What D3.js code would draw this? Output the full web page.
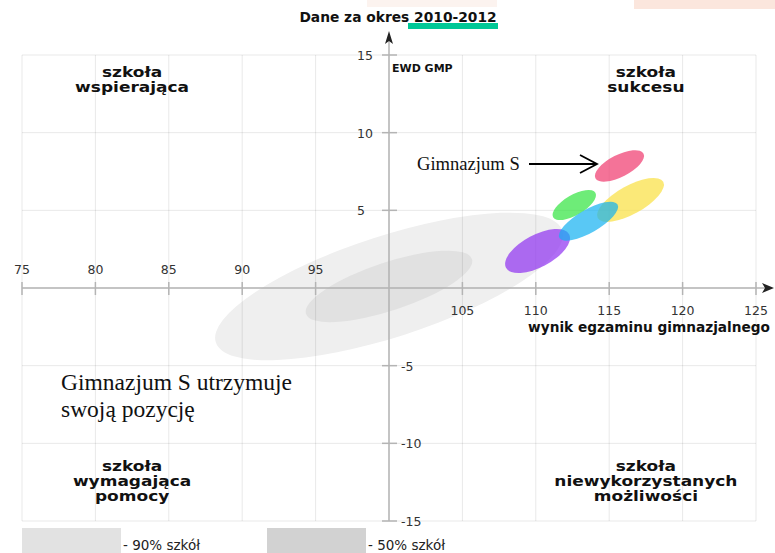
<!DOCTYPE html>
<html>
<head>
<meta charset="utf-8">
<script src="https://cdn.jsdelivr.net/npm/d3@7"></script>
<style>
  html, body { margin: 0; padding: 0; background: #fff; }
  svg { display: block; font-family: "DejaVu Sans", sans-serif; }
</style>
</head>
<body>
<svg id="chart" width="775" height="553"></svg>
<script>
// axis ticks
const xTicks = [75, 80, 85, 90, 95, 100, 105, 110, 115, 120, 125];
const yTicks = [-15, -10, -5, 0, 5, 10, 15];

// reference bands for all schools (90% / 50%)
const bandNames = ["- 90% szkół", "- 50% szkół"];
const bandX = [100.0, 100.0];
const bandY = [0.1, 0.1];
const bandMajorX = [11.8, 5.65];
const bandMajorY = [3.6, 1.77];
const bandMinor = [3.26, 1.55];

// Gimnazjum S, successive periods
const schoolX = [116.45, 112.62, 110.12, 113.59, 115.70];
const schoolY = [5.67, 5.34, 2.38, 4.30, 7.86];
const schoolMajorX = [2.23, 1.44, 2.15, 1.98, 1.64];
const schoolMajorY = [1.17, 0.79, 1.08, 1.08, 0.79];
const schoolMinor = [0.91, 0.65, 1.04, 0.74, 0.71];
const schoolColors = ["#f9e03e", "#30e43e", "#8e30f1", "#13b0f1", "#ef376c"];

const quadrants = [
  {x: 82.5, y: 13.6, lines: ["szkoła", "wspierająca"]},
  {x: 117.5, y: 13.6, lines: ["szkoła", "sukcesu"]},
  {x: 82.5, y: -11.8, lines: ["szkoła", "wymagająca", "pomocy"]},
  {x: 117.5, y: -11.8, lines: ["szkoła", "niewykorzystanych", "możliwości"]}
];

const svg = d3.select("#chart");
const x = d3.scaleLinear().domain([75, 125]).range([22, 756]);
const y = d3.scaleLinear().domain([-15, 15]).range([521, 55]);
const kx = x(1) - x(0), ky = y(0) - y(1);

// faint marks at the top edge of the scan
svg.append("rect").attr("x", 367).attr("y", 0).attr("width", 130).attr("height", 7).attr("fill", "#fcf3ef");
svg.append("rect").attr("x", 634).attr("y", 0).attr("width", 141).attr("height", 9).attr("fill", "#fbe6dd");

function ellipse(g, cx, cy, mx, my, minor, fill, op) {
  const vx = mx * kx, vy = -my * ky;
  const a = Math.hypot(vx, vy);
  const ang = Math.atan2(vy, vx) * 180 / Math.PI;
  g.append("ellipse")
    .attr("rx", a).attr("ry", minor * ky)
    .attr("transform", `translate(${x(cx)},${y(cy)}) rotate(${ang})`)
    .attr("fill", fill).attr("fill-opacity", op);
}

// grey bands
const bands = svg.append("g");
const bandFill = ["#efefef", "#e1e1e1"];
bandX.forEach((v, i) => ellipse(bands, v, bandY[i], bandMajorX[i], bandMajorY[i], bandMinor[i], bandFill[i], 1));

// grid
const grid = svg.append("g").attr("stroke", "#000").attr("stroke-opacity", 0.09).attr("stroke-width", 1);
grid.selectAll("line.v").data(xTicks).join("line")
  .attr("x1", d => x(d)).attr("x2", d => x(d)).attr("y1", y(15)).attr("y2", y(-15));
grid.selectAll("line.h").data(yTicks).join("line")
  .attr("y1", d => y(d)).attr("y2", d => y(d)).attr("x1", x(75)).attr("x2", x(125));

// axes
const ax = svg.append("g").attr("stroke", "#b4b4b4").attr("stroke-width", 1.5);
ax.append("line").attr("x1", x(75)).attr("x2", 768).attr("y1", y(0)).attr("y2", y(0));
ax.append("line").attr("x1", x(100)).attr("x2", x(100)).attr("y1", y(-15)).attr("y2", 40);
ax.selectAll("line.xt").data(xTicks.filter(d => d !== 100)).join("line")
  .attr("x1", d => x(d)).attr("x2", d => x(d)).attr("y1", y(0) - 6).attr("y2", y(0) + 7);
ax.selectAll("line.yt").data(yTicks.filter(d => d !== 0)).join("line")
  .attr("y1", d => y(d)).attr("y2", d => y(d)).attr("x1", x(100) - 7).attr("x2", x(100) + 8);

svg.append("path").attr("d", `M${x(100)},31 L${x(100) + 4},44 L${x(100)},41 L${x(100) - 4},44 Z`).attr("fill", "#222");
svg.append("path").attr("d", `M774,${y(0)} L762,${y(0) - 5} L765,${y(0)} L762,${y(0) + 5} Z`).attr("fill", "#222");

// tick labels
const tl = svg.append("g").attr("font-size", 12.5).attr("fill", "#333");
tl.selectAll("text.x").data(xTicks.filter(d => d !== 100)).join("text")
  .attr("x", d => x(d)).attr("y", d => d < 100 ? y(0) - 14 : y(0) + 27)
  .attr("text-anchor", "middle").text(d => d);
tl.selectAll("text.y").data(yTicks.filter(d => d !== 0)).join("text")
  .attr("x", d => d > 0 ? x(100) - 32 : x(100) + 12).attr("y", d => y(d) + 5)
  .text(d => d);

// school ellipses
const sg = svg.append("g");
schoolX.forEach((v, i) => ellipse(sg, v, schoolY[i], schoolMajorX[i], schoolMajorY[i], schoolMinor[i], schoolColors[i], 0.7));

// labels
svg.append("text").attr("x", 398).attr("y", 22).attr("text-anchor", "middle")
  .attr("font-weight", "bold").attr("font-size", 13.8).attr("fill", "#111").text("Dane za okres 2010-2012");
svg.append("rect").attr("x", 408).attr("y", 23).attr("width", 90).attr("height", 6).attr("fill", "#00c896");
svg.append("text").attr("x", 392).attr("y", 72).attr("font-weight", "bold").attr("font-size", 11).attr("fill", "#111").text("EWD GMP");
svg.append("text").attr("x", 770).attr("y", 332).attr("text-anchor", "end")
  .attr("font-weight", "bold").attr("font-size", 13.7).attr("fill", "#111").text("wynik egzaminu gimnazjalnego");

// quadrant names: tall, tightly stacked lettering
const q = svg.append("g").attr("font-weight", "bold").attr("font-size", 17).attr("fill", "#111").attr("text-anchor", "middle");
quadrants.forEach(d => {
  const t = q.append("text").attr("transform", `translate(${x(d.x)},${y(d.y)}) scale(1,0.85)`);
  d.lines.forEach((l, i) => t.append("tspan").attr("x", 0).attr("dy", i ? 17.6 : 0).text(l));
});

// annotations
const serif = "'Liberation Serif', 'Times New Roman', serif";
svg.append("text").attr("x", 417).attr("y", 170).attr("font-family", serif).attr("font-size", 18.6).attr("fill", "#111").text("Gimnazjum S");
svg.append("line").attr("x1", 529).attr("x2", 597).attr("y1", 164).attr("y2", 164).attr("stroke", "#000").attr("stroke-width", 1.8);
svg.append("path").attr("d", "M580,155 L597,164 L580,173").attr("fill", "none").attr("stroke", "#000").attr("stroke-width", 1.8);
const ann = svg.append("text").attr("font-family", serif).attr("font-size", 23.5).attr("fill", "#111");
ann.append("tspan").attr("x", 61).attr("y", 390).text("Gimnazjum S utrzymuje");
ann.append("tspan").attr("x", 61).attr("y", 417).text("swoją pozycję");

// legend
const legFill = ["#e2e2e2", "#d2d2d2"];
const leg = svg.append("g");
bandNames.forEach((n, i) => {
  leg.append("rect").attr("x", 22 + i * 245).attr("y", 528).attr("width", 99).attr("height", 25).attr("fill", legFill[i]);
  leg.append("text").attr("x", 123 + i * 245).attr("y", 550).attr("font-size", 13.5).attr("fill", "#222").text(n);
});
</script>
</body>
</html>
